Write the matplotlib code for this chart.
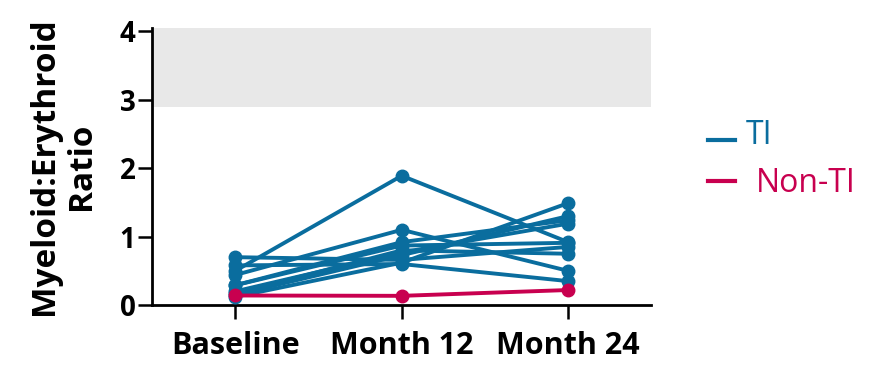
import matplotlib
matplotlib.use("Agg")
import matplotlib.pyplot as plt
from matplotlib.lines import Line2D

timepoints = ["Baseline", "Month 12", "Month 24"]

# one row per TI patient: baseline, month 12, month 24
ti_ratios = [
    [0.50, 1.89, 0.92],
    [0.44, 1.10, 0.50],
    [0.70, 0.66, 0.85],
    [0.58, 0.60, 0.35],
    [0.29, 0.87, 0.91],
    [0.17, 0.80, 0.75],
    [0.12, 0.62, 1.49],
    [0.15, 0.73, 1.30],
    [0.29, 0.92, 1.24],
    [0.20, 0.77, 1.19],
]
non_ti_ratios = [0.14, 0.135, 0.22]

normal_range = (2.9, 4.1)

BLUE = "#0a6d9e"
RED = "#c8004f"

plt.rcParams["font.family"] = ["Open Sans", "DejaVu Sans"]

fig = plt.figure(figsize=(8.79, 3.68), dpi=100)
ax = fig.add_axes([0.173, 0.171, 0.568, 0.753])

ax.axhspan(*normal_range, color="#e8e8e8", zorder=0, lw=0)

x = list(range(len(timepoints)))
for row in ti_ratios:
    ax.plot(x, row, "-o", color=BLUE, lw=2.8, ms=9, zorder=3)
ax.plot(x, non_ti_ratios, "-o", color=RED, lw=2.8, ms=9, zorder=4)

ax.set_xlim(-0.5, 2.5)
ax.set_ylim(0, 4.05)
ax.set_yticks([0, 1, 2, 3, 4])
ax.set_xticks(x)
ax.set_xticklabels(timepoints)

for side in ("top", "right"):
    ax.spines[side].set_visible(False)
for side in ("left", "bottom"):
    ax.spines[side].set_linewidth(2)

ax.tick_params(axis="both", length=10, width=1.8)
ax.tick_params(axis="x", pad=9, labelsize=22)
ax.tick_params(axis="y", pad=2, labelsize=20)
for lab in ax.get_xticklabels() + ax.get_yticklabels():
    lab.set_fontweight("bold")

ax.set_ylabel("Myeloid:Erythroid\nRatio", fontsize=24, fontweight="bold",
              linespacing=1.15)
ax.yaxis.set_label_coords(-0.108, 0.50)

# legend drawn as short colored dashes next to colored labels
fig.add_artist(Line2D([0.806, 0.836], [0.620, 0.620], color=BLUE, lw=3,
                      transform=fig.transFigure))
fig.add_artist(Line2D([0.805, 0.836], [0.508, 0.508], color=RED, lw=3,
                      transform=fig.transFigure))
fig.text(0.848, 0.633, "TI", color=BLUE, fontsize=23, va="center")
fig.text(0.860, 0.500, "Non-TI", color=RED, fontsize=23, va="center")

fig.savefig("out.png", dpi=100)
